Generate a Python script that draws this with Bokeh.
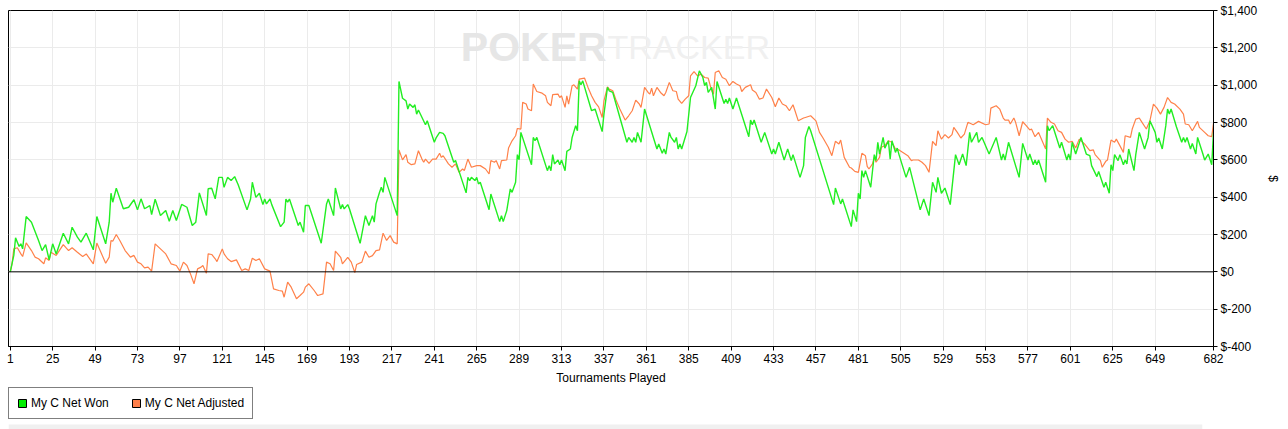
from bokeh.plotting import figure
from bokeh.layouts import column
from bokeh.models import (Range1d, FixedTicker, Span, Legend, LegendItem, Label)
from bokeh.embed import file_html
from bokeh.resources import INLINE

# ---------------- data ----------------
won_t = [1, 3, 4, 6, 7, 8, 10, 13, 17, 19, 21, 23, 25, 27, 31, 34, 36, 39, 41, 44, 48, 50, 55, 57, 58, 59, 61,
         65, 68, 71, 73, 75, 77, 80, 81, 83, 86, 89, 91, 93, 95, 98, 101, 104, 106, 108, 112, 113, 115, 117,
         119, 121, 122, 124, 126, 128, 130, 135, 137, 138, 140, 142, 144, 145, 146, 148, 149, 154, 156, 157,
         158, 159, 164, 165, 167, 168, 170, 177, 180, 181, 184, 185, 188, 189, 190, 192, 193, 199, 202, 204,
         206, 207, 208, 210, 211, 212, 213, 220, 221, 223, 225, 226, 227, 229, 230, 231, 232, 236, 237, 241,
         242, 244, 246, 247, 252, 253, 259, 260, 261, 262, 264, 265, 266, 267, 272, 273, 278, 279, 280, 282,
         284, 285, 287, 288, 289, 290, 296, 297, 298, 299, 305, 306, 307, 308, 309, 311, 312, 313, 315, 316,
         318, 319, 321, 322, 323, 324, 325, 330, 332, 336, 337, 339, 340, 342, 350, 351, 353, 354, 355, 356,
         358, 360, 367, 368, 370, 371, 372, 374, 375, 377, 378, 379, 380, 381, 384, 386, 389, 391, 393, 394,
         395, 396, 398, 400, 401, 405, 406, 407, 408, 410, 412, 419, 420, 421, 422, 426, 428, 432, 433, 434,
         436, 439, 441, 443, 444, 448, 450, 451, 453, 454, 467, 468, 471, 472, 477, 478, 480, 481, 482, 483,
         484, 485, 488, 490, 491, 492, 493, 495, 496, 498, 499, 500, 502, 503, 504, 508, 510, 516, 518, 521,
         523, 525, 526, 528, 530, 533, 536, 538, 540, 542, 544, 545, 548, 549, 551, 555, 559, 562, 563, 564,
         566, 572, 574, 577, 578, 580, 581, 582, 583, 587, 588, 589, 591, 595, 596, 599, 600, 601, 602, 604,
         607, 610, 612, 613, 616, 617, 620, 621, 623, 624, 625, 626, 628, 629, 631, 632, 633, 634, 637, 638,
         640, 643, 645, 646, 649, 650, 651, 653, 655, 656, 657, 658, 661, 664, 665, 666, 667, 669, 670, 672,
         673, 676, 677, 679, 681, 682]
won_v = [0, 88, 182, 136, 150, 123, 296, 266, 168, 114, 146, 64, 150, 96, 207, 150, 239, 186, 159, 207, 118, 296,
         150, 266, 421, 373, 448, 338, 346, 386, 332, 391, 338, 355, 307, 389, 302, 329, 271, 329, 275, 361,
         346, 248, 266, 423, 302, 445, 448, 391, 506, 506, 453, 506, 489, 510, 467, 332, 390, 480, 399, 421,
         360, 390, 364, 390, 360, 242, 266, 390, 373, 390, 248, 266, 212, 355, 355, 153, 364, 390, 301, 449,
         337, 360, 337, 360, 337, 153, 301, 248, 301, 266, 364, 426, 453, 426, 506, 301, 1020, 930, 916, 872,
         899, 881, 895, 845, 867, 788, 809, 694, 717, 747, 742, 729, 587, 596, 423, 506, 489, 506, 489, 506,
         471, 480, 333, 417, 269, 301, 269, 328, 444, 426, 480, 628, 601, 747, 574, 720, 702, 720, 542, 569,
         542, 628, 578, 599, 574, 599, 542, 645, 658, 720, 783, 756, 1023, 1002, 1023, 863, 872, 751, 845,
         988, 970, 961, 694, 720, 694, 720, 694, 747, 694, 872, 658, 685, 635, 658, 631, 747, 720, 694, 720,
         658, 685, 658, 752, 934, 997, 1077, 1041, 997, 1015, 961, 988, 872, 1020, 902, 925, 902, 931, 872,
         931, 724, 813, 788, 813, 694, 747, 631, 658, 631, 694, 599, 658, 596, 628, 506, 569, 720, 779, 756,
         360, 449, 364, 390, 242, 332, 269, 421, 390, 542, 506, 542, 453, 628, 596, 694, 631, 720, 663, 702,
         604, 702, 640, 663, 628, 506, 560, 332, 390, 301, 480, 426, 506, 421, 449, 360, 628, 574, 631, 569,
         747, 694, 747, 694, 720, 631, 720, 599, 631, 599, 694, 506, 688, 599, 631, 574, 599, 574, 599, 480,
         783, 756, 783, 663, 694, 599, 631, 599, 694, 631, 720, 631, 622, 569, 510, 538, 453, 480, 421, 574,
         542, 628, 596, 628, 574, 599, 578, 658, 542, 628, 747, 658, 720, 809, 747, 694, 717, 658, 783, 872,
         845, 872, 777, 694, 720, 694, 720, 658, 688, 631, 720, 631, 599, 631, 574, 747]

adj_t = [1, 2, 3, 5, 7, 8, 10, 13, 15, 17, 20, 21, 23, 24, 27, 31, 34, 36, 39, 42, 44, 48, 50, 55, 57, 58, 59,
         61, 63, 66, 69, 71, 73, 75, 77, 79, 81, 83, 86, 89, 92, 95, 97, 99, 101, 103, 105, 107, 109, 110,
         112, 113, 115, 117, 118, 121, 122, 124, 126, 129, 132, 134, 136, 138, 140, 142, 145, 148, 150, 153,
         155, 156, 158, 160, 163, 165, 167, 168, 170, 173, 175, 178, 180, 182, 184, 185, 188, 189, 192, 194,
         196, 197, 200, 202, 204, 206, 208, 210, 212, 214, 216, 218, 220, 221, 223, 225, 226, 228, 230, 232,
         234, 235, 236, 238, 240, 242, 244, 245, 246, 249, 251, 253, 255, 257, 258, 260, 262, 265, 267, 270,
         272, 273, 275, 276, 278, 279, 282, 283, 285, 287, 288, 290, 291, 293, 294, 296, 297, 299, 302, 304,
         305, 307, 308, 311, 312, 313, 315, 316, 317, 319, 320, 322, 323, 326, 328, 330, 332, 334, 336, 337,
         339, 340, 342, 344, 346, 349, 351, 353, 355, 357, 358, 360, 362, 363, 364, 365, 367, 369, 371, 372,
         374, 376, 378, 379, 381, 383, 385, 386, 388, 390, 392, 394, 396, 398, 399, 400, 402, 404, 406, 408,
         410, 412, 414, 415, 417, 420, 421, 423, 425, 427, 429, 432, 434, 436, 438, 440, 442, 444, 445, 447,
         450, 451, 454, 457, 459, 461, 464, 466, 468, 470, 471, 473, 476, 477, 479, 481, 483, 485, 486, 487,
         489, 490, 491, 493, 494, 496, 498, 500, 502, 504, 506, 509, 511, 512, 515, 517, 519, 521, 523, 525,
         526, 528, 530, 532, 534, 535, 537, 539, 541, 543, 546, 549, 553, 555, 556, 559, 561, 563, 564, 566,
         567, 569, 570, 572, 574, 576, 578, 579, 581, 583, 585, 587, 588, 590, 592, 594, 596, 598, 600, 602,
         604, 606, 609, 612, 614, 615, 618, 619, 621, 622, 624, 626, 627, 629, 631, 632, 635, 636, 638, 640,
         641, 644, 646, 648, 650, 652, 654, 656, 658, 660, 663, 665, 666, 668, 670, 673, 674, 677, 679, 681,
         682]
adj_v = [0, 43, 123, 129, 96, 82, 155, 114, 79, 70, 43, 75, 61, 105, 88, 146, 114, 129, 105, 82, 96, 43, 154, 46,
         79, 168, 164, 200, 168, 114, 79, 88, 52, 43, 21, 25, 4, 150, 123, 96, 43, 34, 4, 52, 34, -11, -64, 16,
         25, 34, -7, 96, 93, 70, 55, 123, 96, 70, 55, 64, 7, 16, 7, 73, 61, 70, 16, 4, -91, -100, -103, -136,
         -55, -82, -144, -127, -109, -82, -64, -100, -127, -118, 52, 43, 7, 111, 78, 43, 78, 52, -4, 39, 52,
         111, 78, 87, 114, 118, 207, 168, 194, 159, 150, 653, 600, 628, 587, 574, 578, 649, 604, 587, 604, 581,
         604, 604, 635, 613, 622, 578, 560, 578, 533, 551, 542, 604, 560, 569, 569, 551, 524, 596, 587, 596,
         551, 596, 599, 663, 702, 729, 768, 765, 908, 899, 872, 863, 1006, 966, 957, 943, 908, 890, 949, 952,
         934, 943, 881, 943, 899, 997, 1002, 979, 1032, 1038, 988, 943, 908, 884, 827, 916, 991, 979, 970, 916,
         872, 813, 836, 863, 920, 899, 881, 988, 961, 952, 984, 943, 988, 961, 943, 961, 1015, 970, 966, 925,
         902, 925, 943, 1050, 1073, 1050, 1059, 1041, 1038, 970, 952, 1068, 1077, 1041, 1032, 997, 1020, 1006,
         997, 966, 988, 1002, 974, 961, 925, 931, 979, 934, 884, 931, 899, 890, 863, 895, 867, 809, 824, 827,
         836, 809, 747, 717, 667, 622, 699, 685, 706, 613, 560, 556, 538, 533, 635, 622, 565, 551, 578, 613,
         587, 613, 667, 676, 702, 694, 658, 653, 640, 622, 596, 599, 599, 587, 569, 533, 699, 676, 756, 711,
         735, 717, 735, 774, 747, 717, 738, 801, 788, 806, 788, 792, 877, 890, 872, 824, 813, 813, 792, 824,
         801, 729, 804, 783, 760, 765, 724, 747, 702, 658, 824, 801, 792, 756, 747, 711, 694, 699, 663, 711,
         685, 649, 653, 628, 596, 560, 592, 599, 706, 694, 711, 676, 640, 729, 720, 765, 818, 824, 809, 765,
         809, 899, 877, 845, 881, 934, 908, 899, 872, 845, 792, 788, 756, 806, 774, 747, 729, 724, 795]

x_ticks = [1, 25, 49, 73, 97, 121, 145, 169, 193, 217, 241, 265, 289, 313, 337, 361, 385, 409, 433, 457,
           481, 505, 529, 553, 577, 601, 625, 649, 682]
y_ticks = [-400, -200, 0, 200, 400, 600, 800, 1000, 1200, 1400]
y_labels = ["$-400", "$-200", "$0", "$200", "$400", "$600", "$800", "$1,000", "$1,200", "$1,400"]

series_names = ["My C Net Won", "My C Net Adjusted"]
won_color = "#22ee22"
adj_color = "#ff8149"
FONT = "Liberation Sans"
W = 1272

# ---------------- main chart ----------------
p = figure(frame_width=1205, frame_height=336,
           x_range=Range1d(0, 682), y_range=Range1d(-400, 1400),
           y_axis_location="right", output_backend="svg", toolbar_location=None,
           min_border_left=8, min_border_top=10, min_border_right=20, min_border_bottom=40,
           background_fill_color="white", border_fill_color="white")
p.outline_line_color = "black"
p.outline_line_width = 1

# watermark
p.add_layout(Label(x=256, y=1205, text="POKER", text_font=FONT, text_font_size="41px",
                   text_font_style="bold", text_baseline="alphabetic",
                   text_color="#e6e6e6", level="underlay"))
p.add_layout(Label(x=339, y=1205, text="TRACKER", text_font=FONT, text_font_size="34px",
                   text_baseline="alphabetic", text_color="#f0f0f0", level="underlay"))

# grid
for g in (p.xgrid, p.ygrid):
    g.grid_line_color = "#ebebeb"
    g.grid_line_width = 1
p.xgrid.ticker = FixedTicker(ticks=x_ticks)
p.ygrid.ticker = FixedTicker(ticks=y_ticks)

# zero line
p.add_layout(Span(location=0, dimension="width", line_color="black", line_width=1))

# series
r_adj = p.line(adj_t, adj_v, line_color=adj_color, line_width=1.2)
r_won = p.line(won_t, won_v, line_color=won_color, line_width=1.4)

# axes
xa = p.xaxis[0]
xa.ticker = FixedTicker(ticks=x_ticks)
xa.axis_label = "Tournaments Played"
ya = p.yaxis[0]
ya.ticker = FixedTicker(ticks=y_ticks)
ya.major_label_overrides = {v: s for v, s in zip(y_ticks, y_labels)}
ya.axis_label = "$"
for ax in (xa, ya):
    ax.axis_line_color = "black"
    ax.major_tick_line_color = "black"
    ax.major_tick_out = 4
    ax.major_tick_in = 0
    ax.minor_tick_line_color = None
    ax.major_label_text_font = FONT
    ax.major_label_text_font_size = "12px"
    ax.major_label_text_color = "black"
    ax.axis_label_text_font = FONT
    ax.axis_label_text_font_size = "12px"
    ax.axis_label_text_font_style = "normal"
    ax.axis_label_text_color = "black"
xa.major_label_standoff = 3
xa.axis_label_standoff = 5
ya.major_label_standoff = 3
ya.axis_label_standoff = 6

# ---------------- legend strip under the chart ----------------
leg = figure(width=W, height=43, x_range=Range1d(0, W), y_range=Range1d(0, 43),
             output_backend="svg", toolbar_location=None,
             min_border_left=8, min_border_right=0, min_border_top=0, min_border_bottom=0,
             background_fill_color="white", border_fill_color="white")
leg.xaxis.visible = False
leg.yaxis.visible = False
leg.xgrid.visible = False
leg.ygrid.visible = False
leg.outline_line_color = None
# light grey strip at the very bottom of the page
leg.quad(left=[0], right=[W], bottom=[0], top=[6], fill_color="#f0f0f0", line_color=None)

# swatch renderers (kept outside the visible range, used only for the legend)
sw_won = leg.quad(left=[-50], right=[-40], top=[-40], bottom=[-50], fill_color="#00ee00", line_color="black")
sw_adj = leg.quad(left=[-50], right=[-40], top=[-40], bottom=[-50], fill_color="#ff7f4a", line_color="black")
legend = Legend(items=[LegendItem(label=series_names[0], renderers=[sw_won]),
                       LegendItem(label=series_names[1], renderers=[sw_adj])],
                orientation="horizontal", location=(0, 11),
                border_line_color="black", border_line_width=1.8,
                background_fill_color="white",
                label_text_font=FONT, label_text_font_size="12px", label_text_color="black",
                glyph_width=10, glyph_height=10, label_standoff=4, spacing=22,
                padding=8, margin=0, label_height=14)
leg.add_layout(legend, "center")

layout = column(p, leg, spacing=0)
open("out.html", "w").write(file_html(layout, INLINE))
